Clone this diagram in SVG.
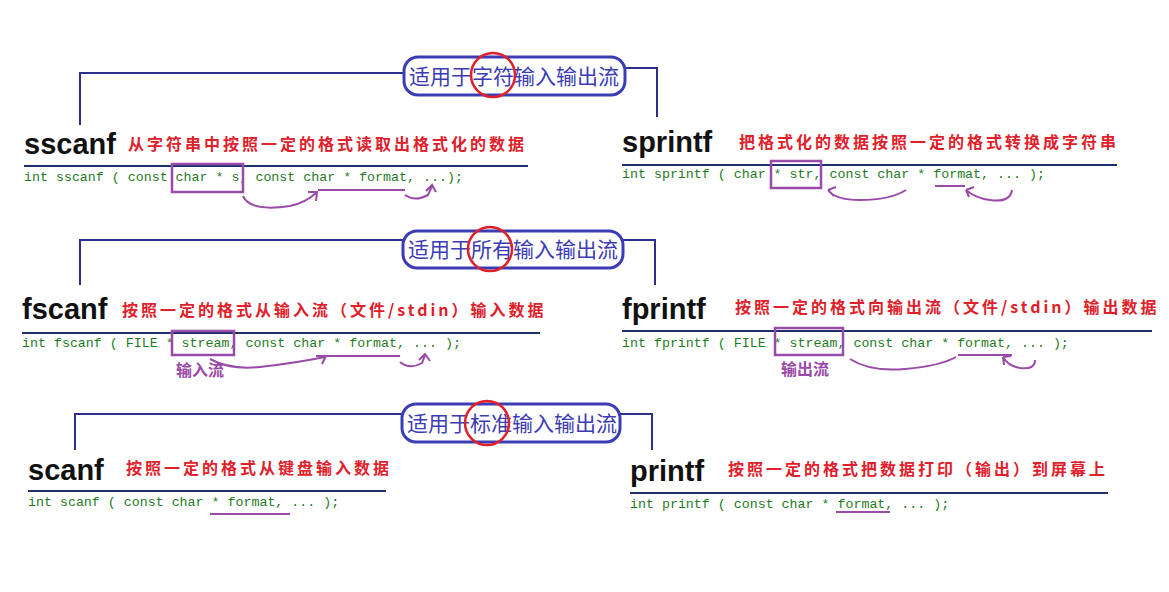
<svg xmlns="http://www.w3.org/2000/svg" width="1169" height="592" viewBox="0 0 1169 592">
<style>
.bn{fill:none;stroke:#3c3cb4;stroke-width:3}
.bt{font-family:"Noto Sans CJK SC",sans-serif;font-size:21px;fill:#3c3cb4}
.rc{fill:none;stroke:#e0202a;stroke-width:2.5}
.cl{fill:none;stroke:#2e2e8c;stroke-width:2}
.ti{font-family:"Liberation Sans",Arial,sans-serif;font-weight:bold;font-size:29px;fill:#111}
.rd{font-family:"Noto Sans CJK SC",sans-serif;font-weight:bold;font-size:16px;fill:#e0202a;letter-spacing:3px}
.ul{stroke:#1e2f6e;stroke-width:2}
.cd{font-family:"Liberation Mono",monospace;font-size:13.3px;fill:#1f7a1f}
.bx{fill:none;stroke:#9a4aa8;stroke-width:2.5}
.pa{fill:none;stroke:#9a4aa8;stroke-width:2}
.pl{font-family:"Noto Sans CJK SC",sans-serif;font-size:16px;fill:#9a4aa8;font-weight:bold}
</style>
<rect width="1169" height="592" fill="#fff"/>
<g id="connectors">
<path class="cl" d="M80,125 V73 H404 M625,68 H657 V117"/>
<path class="cl" d="M80,285 V240 H403 M623,240 H655 V285"/>
<path class="cl" d="M75,450 V414 H402 M620,414 H652 V450"/>
</g>
<g id="banner1"><rect class="bn" x="404" y="57" width="221" height="38" rx="14"/><text class="bt" x="409" y="84">适用于字符输入输出流</text><circle class="rc" cx="493" cy="75" r="22"/></g>
<g id="banner2"><rect class="bn" x="403" y="231" width="220" height="37" rx="14"/><text class="bt" x="408" y="257">适用于所有输入输出流</text><circle class="rc" cx="490" cy="249" r="22"/></g>
<g id="banner3"><rect class="bn" x="402" y="404" width="218" height="38" rx="14"/><text class="bt" x="407" y="431">适用于标准输入输出流</text><circle class="rc" cx="487" cy="423" r="22"/></g>

<g id="sscanf">
<text class="ti" x="24" y="154">sscanf</text>
<text class="rd" x="128" y="150">从字符串中按照一定的格式读取出格式化的数据</text>
<line class="ul" x1="24" y1="166" x2="528" y2="166"/>
<text class="cd" x="24" y="181">int sscanf ( const char * s, const char * format, ...);</text>
<rect class="bx" x="172" y="164" width="71" height="28"/>
<path class="pa" d="M243,196 Q250,212 290,206 Q305,203 316,193 M308,192 L317,192 L316,201"/>
<path class="pa" d="M318,190 H405"/>
<path class="pa" d="M405,195 Q415,202 428,195 L432,186 M426,191 L432,185 L436,192"/>
</g>
<g id="sprintf">
<text class="ti" x="622" y="152">sprintf</text>
<text class="rd" x="739" y="148">把格式化的数据按照一定的格式转换成字符串</text>
<line class="ul" x1="622" y1="165" x2="1117" y2="165"/>
<text class="cd" x="622" y="178">int sprintf ( char * str, const char * format, ... );</text>
<rect class="bx" x="771" y="161" width="50" height="27"/>
<path class="pa" d="M935,186 H965"/>
<path class="pa" d="M906,190 Q890,200 860,200 Q835,200 828,190 M828,190 L836,187 M828,190 L834,196"/>
<path class="pa" d="M1012,190 Q1010,203 990,200 Q975,198 966,190 M966,190 L974,187 M966,190 L969,197"/>
</g>
<g id="fscanf">
<text class="ti" x="22" y="319">fscanf</text>
<text class="rd" x="122" y="316">按照一定的格式从输入流（文件/stdin）输入数据</text>
<line class="ul" x1="22" y1="333" x2="540" y2="333"/>
<text class="cd" x="22" y="347">int fscanf ( FILE * stream, const char * format, ... );</text>
<rect class="bx" x="172" y="331" width="62" height="24"/>
<text class="pl" x="176" y="376">输入流</text>
<path class="pa" d="M210,359 Q230,370 260,367 Q295,363 325,357 M316,356 L326,356 L322,364"/>
<path class="pa" d="M326,356 H400"/>
<path class="pa" d="M400,362 Q410,370 422,363 L425,355 M419,360 L425,354 L430,361"/>
</g>
<g id="fprintf">
<text class="ti" x="622" y="319">fprintf</text>
<text class="rd" x="735" y="313">按照一定的格式向输出流（文件/stdin）输出数据</text>
<line class="ul" x1="622" y1="331" x2="1152" y2="331"/>
<text class="cd" x="622" y="347">int fprintf ( FILE * stream, const char * format, ... );</text>
<rect class="bx" x="775" y="328" width="68" height="27"/>
<text class="pl" x="781" y="375">输出流</text>
<path class="pa" d="M958,355 H1012"/>
<path class="pa" d="M850,359 Q870,372 905,369 Q940,366 956,357"/>
<path class="pa" d="M1035,360 Q1035,370 1020,368 Q1008,366 1003,357 M1003,357 L1011,356 M1003,357 L1004,365"/>
</g>
<g id="scanf">
<text class="ti" x="28" y="480">scanf</text>
<text class="rd" x="126" y="474">按照一定的格式从键盘输入数据</text>
<line class="ul" x1="28" y1="491" x2="386" y2="491"/>
<text class="cd" x="28" y="506">int scanf ( const char * format, ... );</text>
<path class="pa" d="M210,514 H290"/>
</g>
<g id="printf">
<text class="ti" x="630" y="481">printf</text>
<text class="rd" x="728" y="475">按照一定的格式把数据打印（输出）到屏幕上</text>
<line class="ul" x1="630" y1="493" x2="1108" y2="493"/>
<text class="cd" x="630" y="508">int printf ( const char * format, ... );</text>
<path class="pa" d="M836,512 H890"/>
</g>
</svg>
